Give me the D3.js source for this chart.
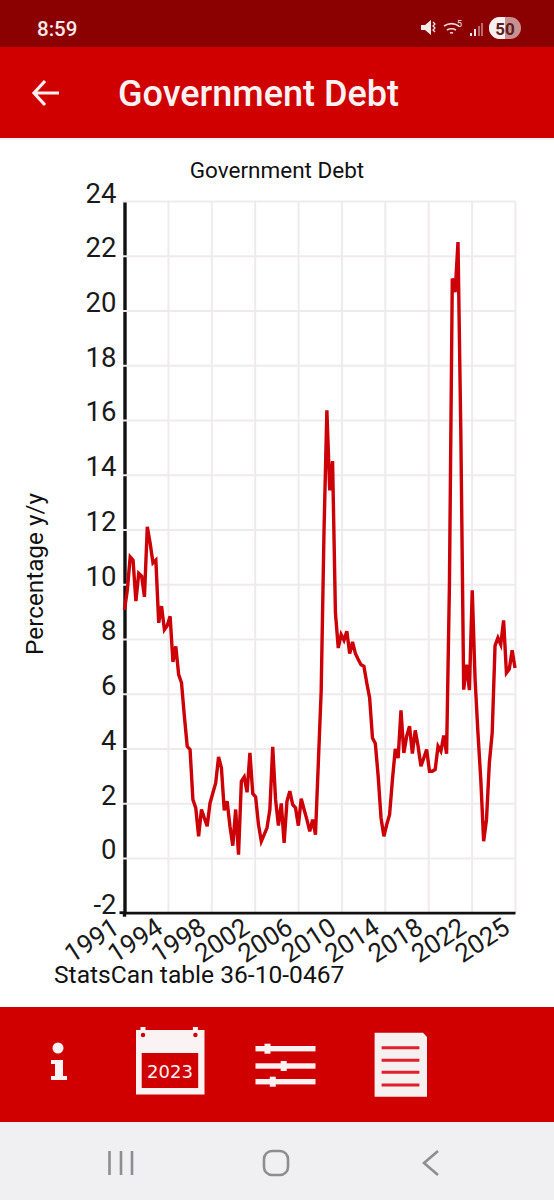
<!DOCTYPE html>
<html><head>
<meta charset="utf-8">
<title>Government Debt</title>
<script src="https://d3js.org/d3.v7.min.js"></script>
<style>
  body { margin: 0; background: #fff; }
  svg { display: block; font-family: Roboto, sans-serif; }
  .gridlines line { stroke: #efebec; stroke-width: 2; }
  .gridlines .domain { stroke: none; }
  .axis text { font-family: Roboto, sans-serif; fill: #1a1a1a; }
  .y.axis text { font-size: 27.5px; }
  .x.axis text { font-size: 26px; }
  .y.axis .domain { stroke: #111; stroke-width: 3.4; }
  .x.axis .domain { stroke: #111; stroke-width: 2.8; }
</style>
</head>
<body>
<svg id="chart" width="554" height="1200"></svg>
<script>

// Values, one per quarter
const debtValues = [
  9.07, 9.8, 11.0, 10.88, 9.38, 10.4, 10.3, 9.54, 12.1, 11.5,
  10.78, 10.88, 8.59, 9.2, 8.34, 8.49, 8.83, 7.16, 7.73, 6.7,
  6.4, 5.18, 4.08, 3.96, 2.13, 1.83, 0.79, 1.77, 1.46, 1.16,
  2.0, 2.37, 2.74, 3.69, 3.29, 1.74, 2.07, 1.16, 0.45, 1.77,
  0.12, 2.8, 2.96, 2.4, 3.84, 2.35, 2.23, 1.22, 0.61, 0.85,
  1.1, 1.77, 4.06, 2.13, 1.18, 1.99, 0.55, 2.07, 2.44, 1.95,
  1.83, 1.18, 2.17, 1.77, 1.4, 0.97, 1.4, 0.85, 3.47, 6.09,
  11.97, 16.35, 13.43, 14.5, 8.95, 7.67, 8.16, 7.95, 8.28, 7.47,
  7.89, 7.47, 7.25, 7.06, 7.0, 6.39, 5.85, 4.38, 4.18, 2.98,
  1.46, 0.79, 1.22, 1.58, 2.86, 3.98, 3.65, 5.39, 3.84, 4.45,
  4.81, 3.81, 4.66, 4.08, 3.35, 3.65, 3.96, 3.17, 3.17, 3.23,
  4.08, 3.9, 4.47, 3.81, 10.0, 21.17, 20.67, 22.5, 15.5, 6.15,
  7.06, 6.13, 9.78, 6.52, 4.57, 2.86, 0.61, 1.4, 3.47, 4.57,
  7.76, 8.04, 7.8, 8.68, 6.76, 6.9, 7.59, 6.94
];
const xTickLabels = ["1991","1994","1998","2002","2006","2010","2014","2018","2022","2025"];
const yTicks = [-2,0,2,4,6,8,10,12,14,16,18,20,22,24];

const chartTitle = "Government Debt";
const yTitle = "Percentage y/y";
const sourceNote = "StatsCan table 36-10-0467";

const red = "#d10000";
const svg = d3.select("#chart");
const margin = {left: 124.5, right: 515, top: 201, bottom: 912.7};

// ---- phone chrome ----
svg.append("rect").attr("width",554).attr("height",47).attr("fill","#8b0000");
svg.append("rect").attr("y",47).attr("width",554).attr("height",91).attr("fill",red);
svg.append("rect").attr("y",138).attr("width",554).attr("height",2).attr("fill","#f3f3f3");
svg.append("rect").attr("y",1007).attr("width",554).attr("height",115).attr("fill",red);
svg.append("rect").attr("y",1122).attr("width",554).attr("height",78).attr("fill","#f0f0f2");

svg.append("text").attr("x",37).attr("y",36).attr("fill","#f6eaea")
  .style("font-size","20.5px").style("font-weight",500).text("8:59");

// status icons
let status = svg.append("g");
status.append("path").attr("d","M421 25h4l6-5v15l-6-5h-4z").attr("fill","#f6eaea");
status.append("path").attr("d","M433 22l2 2-2 2 2 2-2 2 2 2").attr("fill","none").attr("stroke","#f6eaea").attr("stroke-width",1.2);
status.append("path").attr("d","M444 26a14 14 0 0 1 15 0M447 30a9 9 0 0 1 9 0M450 33a4 4 0 0 1 3 0")
  .attr("fill","none").attr("stroke","#f0dada").attr("stroke-width",1.5);
status.append("text").attr("x",457).attr("y",27).attr("fill","#f6eaea").style("font-size","9px").text("5");
[[470,33,3],[474,29,7],[478,26,10],[481,23,13]].forEach((b,i) => {
  status.append("rect").attr("x",b[0]).attr("y",b[1]).attr("width",2).attr("height",b[2])
    .attr("fill", i < 2 ? "#f6eaea" : "#b86a6a");
});
status.append("rect").attr("x",489).attr("y",17).attr("width",32).attr("height",22).attr("rx",11).attr("fill","#c99090");
status.append("path").attr("d","M505 17h-5a11 11 0 0 0 0 22h5z").attr("fill","#f8f0f0");
status.append("text").attr("x",505).attr("y",34.5).attr("text-anchor","middle").attr("fill","#5a2020")
  .style("font-size","17px").style("font-weight",700).text("50");

// header
svg.append("path").attr("d","M59 93H35M45 81L34 93L45 105")
  .attr("fill","none").attr("stroke","#fbeeee").attr("stroke-width",3.2);
svg.append("text").attr("x",118).attr("y",106).attr("fill","#fbf3f3")
  .style("font-size","36px").style("font-weight",500).text(chartTitle);

// ---- chart ----
const xScale = d3.scaleLinear().domain([0, debtValues.length-1]).range([margin.left, margin.right]);
const yScale = d3.scaleLinear().domain([-2, 24]).range([margin.bottom, margin.top]);

// ticks are evenly spaced along the quarters
const xTickPositions = xTickLabels.map((d,i) => i * (debtValues.length-1) / (xTickLabels.length-1));

let xGrid = d3.axisBottom(xScale).tickValues(xTickPositions).tickSize(-(margin.bottom-margin.top)).tickFormat("");
svg.append("g").attr("class","gridlines")
  .attr("transform","translate(0,"+margin.bottom+")").call(xGrid);

let leftAxis = d3.axisLeft(yScale).tickValues(yTicks).tickSize(0).tickPadding(8).tickFormat(d3.format("d"));
let yAxisG = svg.append("g").attr("class","y axis")
  .attr("transform","translate("+margin.left+",0)").call(leftAxis);
// labels sit on the gridline, not centred on it; plain hyphen on -2
yAxisG.selectAll("text").attr("dy","0").attr("y",1).text(d => String(d));

// horizontal gridlines cross over the axis line
let yGrid = d3.axisLeft(yScale).tickValues(yTicks.slice(1)).tickSize(-(margin.right-margin.left)-2).tickFormat("");
svg.append("g").attr("class","gridlines")
  .attr("transform","translate("+(margin.left-2)+",0)").call(yGrid);

let debtLine = d3.line().x((d,i) => xScale(i)).y(d => yScale(d));
svg.append("path").datum(debtValues)
  .attr("d",debtLine)
  .attr("fill","none")
  .attr("stroke","#cc0006")
  .attr("stroke-width",3.4)
  .attr("stroke-linejoin","miter");

let bottomAxis = d3.axisBottom(xScale).tickValues(xTickPositions)
  .tickFormat((d,i) => xTickLabels[i]).tickSize(0).tickPadding(0);
let xAxisG = svg.append("g").attr("class","x axis")
  .attr("transform","translate(0,"+margin.bottom+")").call(bottomAxis);
xAxisG.selectAll("text")
  .attr("text-anchor","end")
  .attr("dy","0")
  .attr("y",0)
  .attr("transform","translate(-4,19) rotate(-33)");

// small stub under the y axis
svg.append("line").attr("x1",margin.left).attr("x2",margin.left)
  .attr("y1",margin.bottom).attr("y2",margin.bottom+4)
  .attr("stroke","#111").attr("stroke-width",3.4);
svg.append("line").attr("x1",margin.left-5).attr("x2",margin.left)
  .attr("y1",margin.bottom).attr("y2",margin.bottom)
  .attr("stroke","#111").attr("stroke-width",2.8);

svg.append("text").attr("x",277).attr("y",178).attr("text-anchor","middle")
  .attr("fill","#111").style("font-size","22.5px").text(chartTitle);
svg.append("text").attr("transform","translate(43,574) rotate(-90)").attr("text-anchor","middle")
  .attr("fill","#111").style("font-size","24.3px").text(yTitle);
svg.append("text").attr("x",54).attr("y",983)
  .attr("fill","#111").style("font-size","24.6px").text(sourceNote);

// ---- bottom bar icons ----
let icons = svg.append("g").attr("fill","#fbf3f3");
// info
icons.append("circle").attr("cx",58).attr("cy",1048).attr("r",5.5);
icons.append("path").attr("d","M51 1060h12v16h4v4H51v-4h4v-12h-4z");
// calendar
icons.append("rect").attr("x",136).attr("y",1030).attr("width",68.5).attr("height",64.5);
icons.append("rect").attr("x",141.7).attr("y",1053).attr("width",56.5).attr("height",35).attr("fill",red);
[143,195.4].forEach(x => {
  icons.append("rect").attr("x",x-2.5).attr("y",1027).attr("width",5).attr("height",6);
  icons.append("circle").attr("cx",x).attr("cy",1035).attr("r",2.2).attr("fill",red);
});
icons.append("text").attr("x",170).attr("y",1078).attr("text-anchor","middle")
  .style("font-family","'DejaVu Sans'").style("font-size","18px").text("2023");
// sliders
[[1048.7,267.5],[1066,283.7],[1081.7,272.8]].forEach(s => {
  icons.append("rect").attr("x",255.5).attr("y",s[0]-2.7).attr("width",60).attr("height",5.4);
  icons.append("rect").attr("x",s[1]-3).attr("y",s[0]-5).attr("width",6).attr("height",10);
});
// document
icons.append("path").attr("d","M374.6 1032.7H423L427 1037V1096.7H374.6z").attr("fill","#f7f0f0");
[1047.7,1060.3,1072.3,1085].forEach(y => {
  icons.append("line").attr("x1",381.6).attr("x2",419.4).attr("y1",y).attr("y2",y)
    .attr("stroke","#e0202a").attr("stroke-width",3);
});

// ---- android nav bar ----
let nav = svg.append("g").attr("fill","none").attr("stroke","#8e8e92").attr("stroke-width",2.6);
[109.5,121,132].forEach(x => {
  nav.append("line").attr("x1",x).attr("x2",x).attr("y1",1151).attr("y2",1175);
});
nav.append("rect").attr("x",264).attr("y",1151).attr("width",24).attr("height",24).attr("rx",8);
nav.append("path").attr("d","M438 1151L424 1163L438 1175");

</script>
</body>
</html>
